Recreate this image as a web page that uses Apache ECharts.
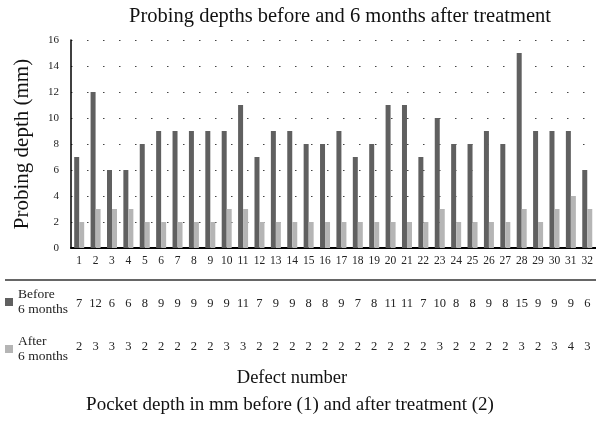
<!DOCTYPE html>
<html><head><meta charset="utf-8">
<script src="https://cdn.jsdelivr.net/npm/echarts@6/dist/echarts.min.js"></script>
<style>html,body{margin:0;padding:0;background:#fff}#c{width:596px;height:423px}</style>
</head><body><div id="c"></div>
<script>
const categories = ['1','2','3','4','5','6','7','8','9','10','11','12','13','14','15','16','17','18','19','20','21','22','23','24','25','26','27','28','29','30','31','32'];
const before = [7,12,6,6,8,9,9,9,9,9,11,7,9,9,8,8,9,7,8,11,11,7,10,8,8,9,8,15,9,9,9,6];
const after = [2,3,3,3,2,2,2,2,2,3,3,2,2,2,2,2,2,2,2,2,2,2,3,2,2,2,2,3,2,3,4,3];
const yTicks = [0,16,2];
const F = 'Liberation Serif';
const chart = echarts.init(document.getElementById('c'));
const tableAxis = (vals, off) => ({
  type:'category', data: vals.map(String), position:'bottom', offset: off, gridIndex:0,
  axisLine:{show:false}, axisTick:{show:false},
  axisLabel:{fontFamily:F, fontSize:12.5, color:'#222', margin:6, interval:0}
});
chart.setOption({
  animation:false,
  textStyle:{fontFamily:F},
  title:[
    {text:'Probing depths before and 6 months after treatment', left:335, top:1, textAlign:'center',
     textStyle:{fontFamily:F, fontSize:20.5, fontWeight:'normal', color:'#111'}},
    {text:'Defect number', left:287, top:364, textAlign:'center',
     textStyle:{fontFamily:F, fontSize:18.5, fontWeight:'normal', color:'#111'}},
    {text:'Pocket depth in mm before (1) and after treatment (2)', left:285, top:391, textAlign:'center',
     textStyle:{fontFamily:F, fontSize:19, fontWeight:'normal', color:'#111'}}
  ],
  legend:{
    orient:'vertical', left:5, top:287, padding:0, itemGap:17, itemWidth:8, itemHeight:8, icon:'rect',
    textStyle:{fontFamily:F, fontSize:13.5, color:'#222', lineHeight:15},
    data:['Before\n6 months','After\n6 months']
  },
  grid:{left:71, right:0, top:40, bottom:175, containLabel:false},
  xAxis:[
    {type:'category', data:categories, gridIndex:0,
     axisLine:{lineStyle:{color:'#000', width:2}}, axisTick:{show:false},
     axisLabel:{fontFamily:F, fontSize:11.5, color:'#222', margin:7, interval:0}},
    tableAxis(before, 43),
    tableAxis(after, 86)
  ],
  yAxis:{type:'value', min:yTicks[0], max:yTicks[1], interval:yTicks[2],
    name:'Probing depth (mm)', nameLocation:'middle', nameGap:38,
    nameTextStyle:{fontFamily:F, fontSize:21, color:'#111'},
    axisLine:{show:true, lineStyle:{color:'#000', width:1.5}}, axisTick:{show:false},
    axisLabel:{fontFamily:F, fontSize:11, color:'#222', margin:12},
    splitLine:{lineStyle:{color:'#444', type:[1.5,14.5], width:1.2}}},
  graphic:[{type:'line', shape:{x1:5,y1:280,x2:596,y2:280}, style:{stroke:'#333', lineWidth:1.5}}],
  series:[
    {name:'Before\n6 months', type:'bar', data:before, barWidth:5, barGap:'0%', itemStyle:{color:'#606060'}},
    {name:'After\n6 months', type:'bar', data:after, barWidth:5, barGap:'0%', itemStyle:{color:'#b5b5b5'}}
  ]
});
</script></body></html>
